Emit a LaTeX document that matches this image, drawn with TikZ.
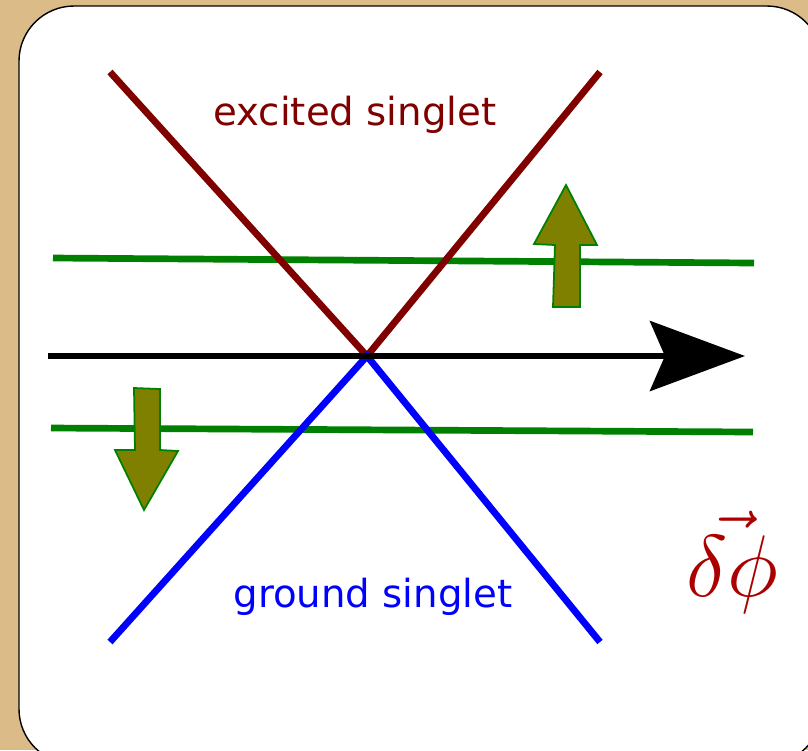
\documentclass[tikz,border=0pt]{standalone}
\usepackage{fontspec}
\usepackage{amsmath}
\setsansfont{DejaVu Sans}
\usetikzlibrary{arrows.meta}
\definecolor{frame}{HTML}{DBBC88}
\definecolor{excited}{HTML}{800000}
\definecolor{ground}{HTML}{0000FF}
\definecolor{level}{HTML}{008000}
\definecolor{shift}{HTML}{808000}
\definecolor{param}{HTML}{AA0000}
\tikzset{
  panel/.style={draw=black,fill=white,rounded corners=0.55cm,thin},
  branch/.style={line width=1.95pt},
  levelline/.style={draw=level,line width=1.9pt},
  axis/.style={-{Stealth[length=0.95cm,width=0.7cm,inset=0.15cm]},line width=1.6pt},
  bigarrow/.style={draw=level,fill=shift,line width=0.5pt,line join=miter},
  label/.style={font=\sffamily\fontsize{11}{13}\selectfont,inner sep=0pt}
}
\begin{document}
\begin{tikzpicture}[x=0.01cm,y=-0.01cm]
  \fill[frame] (0,0) rectangle (808,750);
  \useasboundingbox (0,0) rectangle (808,750);
  \begin{scope}
    \clip (0,0) rectangle (808,750);
    \draw[panel] (19,6) rectangle (822,764);
  \end{scope}
  % end points of the two singlet branches
  \coordinate (cross) at (367,356);
  \coordinate (ex-l) at (110,72);
  \coordinate (ex-r) at (600,72);
  \coordinate (gr-l) at (110,642);
  \coordinate (gr-r) at (600,642);
  % the two levels
  \coordinate (up-l) at (53,258);
  \coordinate (up-r) at (754,263);
  \coordinate (dn-l) at (51,428);
  \coordinate (dn-r) at (753,432);
  % axis
  \coordinate (ax-l) at (48,356);
  \coordinate (ax-r) at (745,356);
  \draw[levelline] (up-l) -- (up-r);
  \draw[levelline] (dn-l) -- (dn-r);
  \draw[branch,excited] (ex-l) -- (cross) -- (ex-r);
  \draw[branch,ground] (gr-l) -- (cross) -- (gr-r);
  \draw[axis] (ax-l) -- (ax-r);
  % shifts of the levels
  \draw[bigarrow] (553,307) -- (555,245) -- (534,244) -- (566,185)
    -- (597,245) -- (580,245) -- (580,307) -- cycle;
  \draw[bigarrow] (134,388) -- (160,389) -- (160,450) -- (178,451)
    -- (144,510) -- (115,450) -- (135,450) -- cycle;
  \node[label,text=excited] (extext) at (355,115) {excited singlet};
  \node[label,text=ground] (grtext) at (373,597) {ground singlet};
  \node[text=param,font=\fontsize{25}{30}\selectfont] (dphi) at (732,562) {$\vec{\delta\phi}$};
\end{tikzpicture}
\end{document}
